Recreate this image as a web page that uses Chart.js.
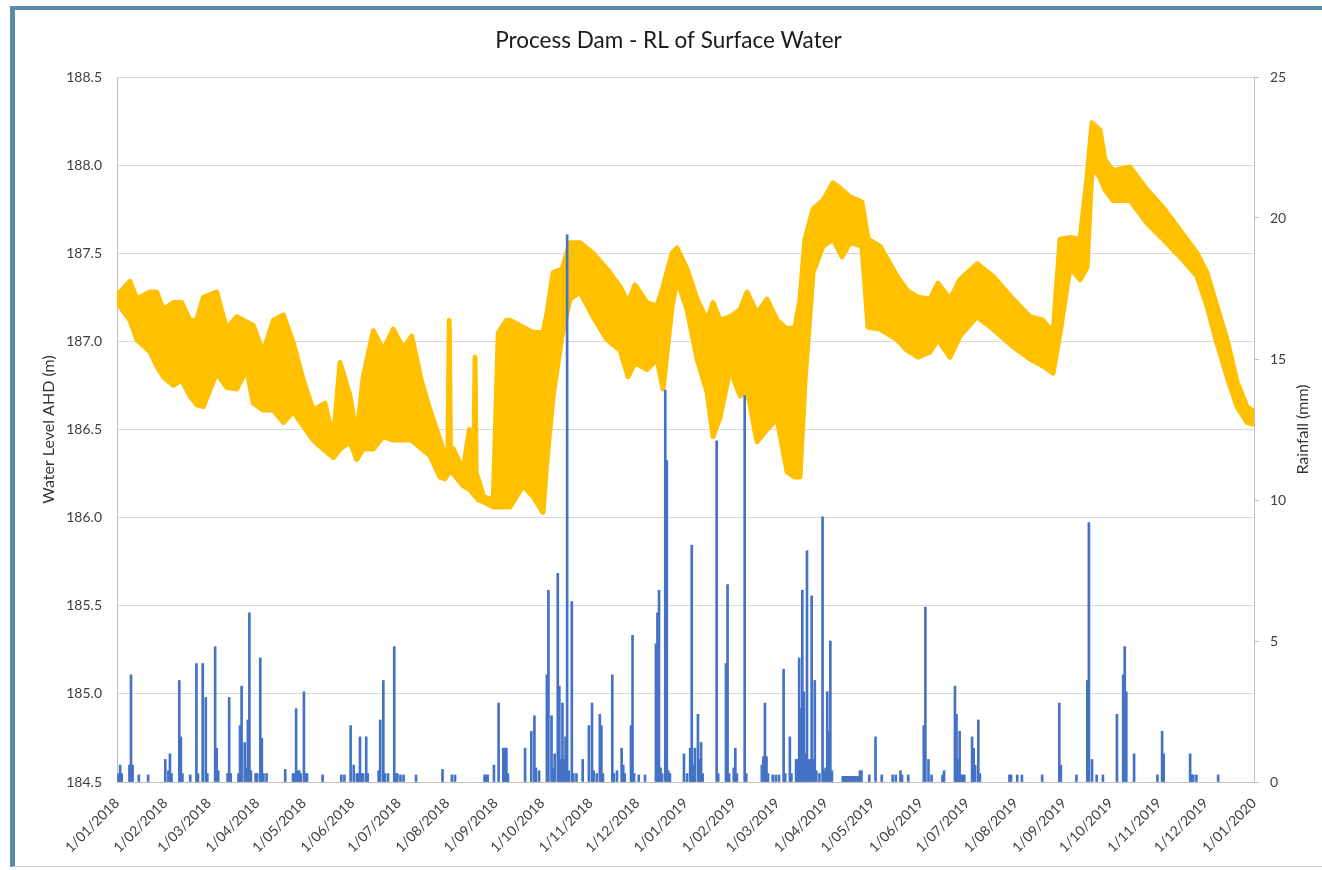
<!DOCTYPE html>
<html>
<head>
<meta charset="utf-8">
<script src="https://cdn.jsdelivr.net/npm/chart.js@4"></script>
<style>
  html, body { margin: 0; padding: 0; background: #ffffff; }
  #wrap { position: relative; width: 1322px; height: 870px; overflow: hidden; }
  #frame { position: absolute; left: 10px; top: 6px; width: 1330px; height: 861px;
           border-left: 5px solid #5B8BAA; border-top: 4px solid #5B8BAA; border-bottom: 1px solid #cccccc;
           box-sizing: border-box; pointer-events: none; }
  canvas { position: absolute; left: 0; top: 0; }
</style>
</head>
<body>
<div id="wrap">
  <canvas id="c" width="1322" height="870"></canvas>
  <div id="frame"></div>
</div>
<script>
// ---- Tick labels (x axis: first of each month, days since 1/01/2018) ----
const monthDays = [0,31,59,90,120,151,181,212,243,273,304,334,365,396,424,455,485,516,546,577,608,638,669,699,730];
const monthLabels = ['1/01/2018','1/02/2018','1/03/2018','1/04/2018','1/05/2018','1/06/2018','1/07/2018','1/08/2018','1/09/2018','1/10/2018','1/11/2018','1/12/2018',
  '1/01/2019','1/02/2019','1/03/2019','1/04/2019','1/05/2019','1/06/2019','1/07/2019','1/08/2019','1/09/2019','1/10/2019','1/11/2019','1/12/2019','1/01/2020'];

// ---- Water level (m AHD): day offset, upper and lower extent of the logged band ----
const levelDay = [0,8.3,12.8,21.2,25.5,29.7,36.1,41.5,46.9,51.2,55.4,64.0,70.4,76.9,83.3,87.5,93.9,100.4,106.8,113.2,119.6,126.0,133.5,138.9,143.2,149.6,153.9,158.1,164.6,171.0,177.4,183.8,189.2,195.6,201.0,207.4,210.6,212.5,213.3,214.1,215.9,222.3,226.2,229.2,229.9,230.6,232.0,235.2,241.6,244.8,250.2,252.3,260.7,267.1,273.5,276.1,280.0,285.7,290.9,297.3,305.6,314.6,323.0,328.1,332.6,340.3,346.7,350.6,356.4,359.6,366.0,372.4,378.9,382.7,387.2,393.6,400.1,404.5,410.9,417.3,423.8,430.2,435.3,438.5,441.7,446.9,453.3,459.7,465.5,470.6,478.3,482.2,489.9,500.8,507.2,514.3,522.0,527.1,534.8,541.2,552.2,562.4,575.3,586.2,594.5,601.0,605.5,611.9,618.3,622.8,626.0,631.1,634.3,639.4,650.4,661.3,671.6,682.5,693.4,699.8,706.2,712.7,719.1,725.5,730];
const levelHigh = [187.26,187.34,187.24,187.28,187.28,187.18,187.22,187.22,187.12,187.12,187.25,187.28,187.07,187.14,187.11,187.09,186.94,187.12,187.15,186.99,186.78,186.61,186.65,186.44,186.88,186.69,186.46,186.80,187.06,186.95,187.07,186.96,187.03,186.77,186.61,186.44,186.35,186.36,187.12,186.38,186.39,186.27,186.50,186.40,186.91,186.25,186.22,186.12,186.10,187.05,187.12,187.12,187.08,187.05,187.05,187.16,187.39,187.41,187.56,187.56,187.50,187.41,187.31,187.22,187.32,187.22,187.20,187.31,187.50,187.53,187.41,187.24,187.12,187.22,187.12,187.14,187.18,187.28,187.16,187.24,187.12,187.07,187.08,187.24,187.58,187.75,187.80,187.90,187.86,187.82,187.79,187.58,187.54,187.37,187.29,187.25,187.24,187.33,187.24,187.35,187.44,187.37,187.24,187.14,187.12,187.05,187.58,187.59,187.58,187.93,188.24,188.20,188.03,187.97,187.99,187.86,187.76,187.63,187.50,187.39,187.20,187.01,186.77,186.63,186.60];
const levelLow = [187.22,187.12,187.01,186.94,186.86,186.80,186.75,186.78,186.69,186.64,186.63,186.82,186.74,186.73,186.84,186.65,186.61,186.61,186.54,186.60,186.52,186.44,186.38,186.34,186.39,186.43,186.33,186.39,186.39,186.46,186.44,186.44,186.44,186.39,186.35,186.23,186.22,186.25,186.27,186.26,186.25,186.18,186.16,186.13,186.12,186.12,186.10,186.09,186.06,186.06,186.06,186.06,186.18,186.12,186.03,186.33,186.69,187.03,187.24,187.28,187.14,187.01,186.95,186.80,186.88,186.84,186.90,186.73,187.20,187.35,187.18,186.90,186.71,186.46,186.57,186.84,186.69,186.73,186.43,186.50,186.56,186.26,186.23,186.23,186.77,187.39,187.54,187.58,187.48,187.56,187.54,187.08,187.07,187.01,186.95,186.91,186.94,187.01,186.91,187.03,187.14,187.07,186.97,186.90,186.86,186.82,187.05,187.42,187.35,187.42,187.99,187.93,187.86,187.80,187.80,187.67,187.58,187.48,187.37,187.20,186.99,186.80,186.63,186.54,186.53];

// ---- Daily rainfall (mm): day offset and value ----
const rainDay = [1,2,3,8,9,10,14,20,31,33,34,35,40,41,42,47,51,52,55,57,58,63,64,65,71,72,73,78,79,80,82,83,84,85,86,89,90,92,93,94,96,108,113,114,115,116,117,118,120,121,122,132,144,146,150,152,154,155,156,157,158,160,161,168,169,171,172,174,178,179,180,182,184,192,209,215,217,236,237,238,242,245,248,249,250,251,262,266,268,269,271,276,277,279,280,281,283,284,285,286,287,288,289,290,292,293,295,299,303,305,306,308,310,311,312,318,319,321,324,325,326,330,331,332,335,339,346,347,348,349,350,352,353,354,355,364,366,368,369,370,371,373,374,375,376,385,386,391,392,393,396,397,398,403,404,414,415,416,417,418,421,423,425,428,429,432,433,436,437,438,439,440,441,442,443,444,445,446,447,448,449,451,453,454,455,456,457,458,459,466,467,468,469,470,471,472,473,474,475,476,477,478,483,487,491,498,500,503,504,508,518,519,521,523,530,531,538,539,540,541,542,543,544,549,550,551,553,554,573,574,578,581,594,605,606,616,623,624,626,629,633,642,646,647,648,653,668,671,672,689,690,691,693,707];
const rainMm = [0.3,0.6,0.3,0.6,3.8,0.6,0.25,0.25,0.8,0.4,1.0,0.3,3.6,1.6,0.3,0.25,4.2,0.3,4.2,3.0,0.3,4.8,1.2,0.4,0.3,3.0,0.3,0.3,2.0,3.4,1.4,0.5,2.2,6.0,0.4,0.3,0.3,4.4,1.55,0.3,0.3,0.45,0.3,0.3,2.6,0.4,0.4,0.3,3.2,0.3,0.3,0.25,0.25,0.25,2.0,0.6,0.3,0.3,1.6,0.3,0.3,1.6,0.3,0.4,2.2,3.6,0.3,0.3,4.8,0.3,0.3,0.25,0.25,0.25,0.45,0.25,0.25,0.25,0.25,0.25,0.6,2.8,1.2,1.2,1.2,0.3,1.2,1.8,2.35,0.5,0.4,3.8,6.8,2.35,0.5,1.0,7.4,3.4,0.8,2.8,0.8,1.6,19.4,0.4,6.4,0.3,0.3,0.8,2.0,2.8,0.4,0.3,2.4,2.0,0.3,3.8,0.3,0.4,1.2,0.6,0.3,2.0,5.2,0.3,0.25,0.25,4.9,6.0,6.8,0.5,0.3,13.9,11.4,0.4,0.3,1.0,0.3,1.2,8.4,0.6,1.2,2.4,0.8,1.4,0.3,12.1,0.3,4.2,7.0,0.3,0.5,1.2,0.3,13.7,0.3,0.6,0.9,2.8,0.9,0.3,0.25,0.25,0.25,4.0,0.3,1.6,0.3,0.8,0.8,4.4,2.6,6.8,3.2,1.0,8.2,0.8,0.8,6.6,0.8,3.6,0.4,0.3,9.4,0.4,0.5,3.2,1.8,5.0,0.4,0.2,0.2,0.2,0.2,0.2,0.2,0.2,0.2,0.2,0.2,0.2,0.4,0.4,0.25,1.6,0.25,0.25,0.25,0.4,0.25,0.25,2.0,6.2,0.8,0.25,0.25,0.4,3.4,2.4,0.8,1.8,0.25,0.25,0.25,1.6,1.2,0.6,2.2,0.3,0.25,0.25,0.25,0.25,0.25,2.8,0.6,0.25,3.6,9.2,0.8,0.25,0.25,2.4,3.8,4.8,3.2,1.0,0.25,1.8,1.0,1.0,0.25,0.25,0.25,0.25];

// ---- Axis ranges ----
const levelTicks = { min: 184.5, max: 188.5, step: 0.5 };
const rainTicks = { min: 0, max: 25, step: 5 };

const ORANGE = '#FFC000';
const BLUE = '#4472C4';
const FONT = 'Lato, "Open Sans", "DejaVu Sans", sans-serif';

const lowPts = levelDay.map((d, i) => ({ x: d, y: levelLow[i] }));
const highPts = levelDay.map((d, i) => ({ x: d, y: levelHigh[i] }));
const rainPts = rainDay.map((d, i) => ({ x: d, y: rainMm[i] }));

const rightTitle = {
  id: 'rightTitle',
  afterDraw(chart) {
    const ctx = chart.ctx;
    const a = chart.chartArea;
    ctx.save();
    ctx.translate(1303, (a.top + a.bottom) / 2);
    ctx.rotate(-Math.PI / 2);
    ctx.font = '16px ' + FONT;
    ctx.fillStyle = '#333333';
    ctx.textAlign = 'center';
    ctx.textBaseline = 'middle';
    ctx.fillText('Rainfall (mm)', 0, 0);
    ctx.restore();
  }
};

new Chart(document.getElementById('c'), {
  type: 'line',
  data: {
    datasets: [
      { type: 'bar', label: 'Rainfall', data: rainPts, xAxisID: 'x', yAxisID: 'y1',
        backgroundColor: BLUE, borderWidth: 0, barThickness: 2, order: 0 },
      { type: 'line', label: 'RL low', data: lowPts, xAxisID: 'x', yAxisID: 'y',
        borderColor: ORANGE, backgroundColor: ORANGE, borderWidth: 5, pointRadius: 0,
        borderJoinStyle: 'round', borderCapStyle: 'round', tension: 0, fill: false, order: 2 },
      { type: 'line', label: 'RL high', data: highPts, xAxisID: 'x', yAxisID: 'y',
        borderColor: ORANGE, backgroundColor: ORANGE, borderWidth: 5, pointRadius: 0,
        borderJoinStyle: 'round', borderCapStyle: 'round', tension: 0, fill: '-1', order: 1 }
    ]
  },
  options: {
    responsive: false,
    animation: false,
    devicePixelRatio: 1,
    layout: { padding: { left: 15, right: 0, top: 10, bottom: 2 } },
    plugins: {
      legend: { display: false },
      tooltip: { enabled: false },
      title: { display: true, text: 'Process Dam - RL of Surface Water',
        font: { family: FONT, size: 22.5, weight: 'normal' }, color: '#1a1a1a',
        padding: { top: 17, bottom: 23 } }
    },
    scales: {
      x: {
        type: 'linear', min: 0, max: 730, offset: false,
        afterBuildTicks: (s) => { s.ticks = monthDays.map(v => ({ value: v })); },
        afterFit: (s) => { s.height = 86; },
        ticks: { autoSkip: false, maxRotation: 45, minRotation: 45, padding: 5,
          color: '#404040', font: { family: FONT, size: 14 },
          callback: (v, i) => monthLabels[i] },
        grid: { display: false, offset: false },
        border: { display: true, color: '#BFBFBF' }
      },
      y: {
        position: 'left', min: levelTicks.min, max: levelTicks.max,
        afterFit: (s) => { s.width = 102; },
        ticks: { stepSize: levelTicks.step, padding: 15, color: '#404040',
          font: { family: FONT, size: 14 }, callback: (v) => Number(v).toFixed(1) },
        grid: { color: '#D9D9D9', drawTicks: false },
        border: { display: true, color: '#BFBFBF' },
        title: { display: true, text: 'Water Level AHD (m)', color: '#333333',
          font: { family: FONT, size: 16 }, padding: { top: 24, bottom: 0 } }
      },
      y1: {
        position: 'right', min: rainTicks.min, max: rainTicks.max,
        afterFit: (s) => { s.width = 68; },
        ticks: { stepSize: rainTicks.step, padding: 11, color: '#404040',
          font: { family: FONT, size: 14 } },
        grid: { drawOnChartArea: false, drawTicks: true, tickLength: 5, color: '#BFBFBF' },
        border: { display: true, color: '#BFBFBF' }
      }
    }
  },
  plugins: [rightTitle]
});
</script>
</body>
</html>
